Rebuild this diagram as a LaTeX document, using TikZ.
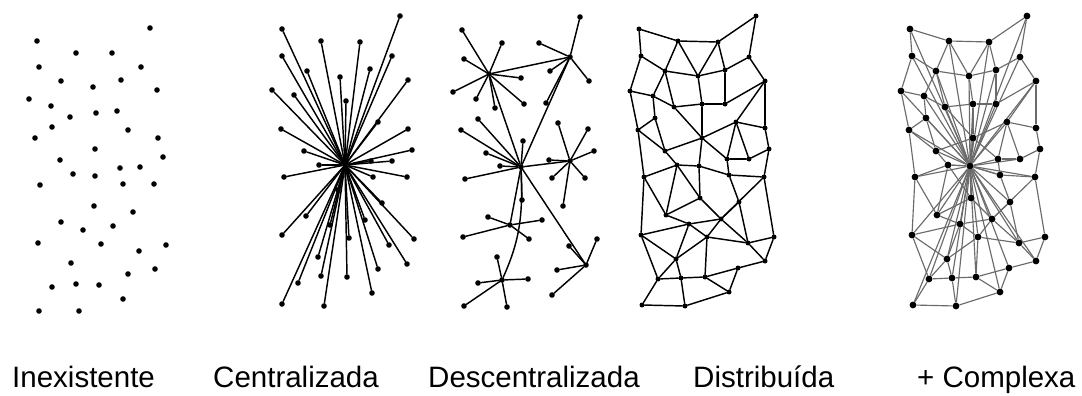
\documentclass[tikz,border=0pt]{standalone}
\usepackage{fontspec}
\setmainfont{Liberation Sans}
\pgfdeclarelayer{bg}
\pgfsetlayers{bg,main}
\begin{document}
\begin{tikzpicture}[x=1pt,y=-1pt,
  dot/.style={circle,fill=black,inner sep=0pt,minimum size=5.6pt},
  mdot/.style={circle,fill=black,inner sep=0pt,minimum size=5pt},
  xdot/.style={circle,fill=black,inner sep=0pt,minimum size=6.8pt},
  link/.style={line width=1.45pt,line cap=round},
  xlink/.style={line width=1.15pt,draw=black!58},
  lbl/.style={anchor=base west,inner sep=0pt,font=\fontsize{29.5}{30}\selectfont}]
\useasboundingbox (0,0) rectangle (1082,396);

% ---------- Inexistente ----------
\foreach \x/\y [count=\i] in {150/28,37/41,76/53,112/53,39/67,141/67,61/81,93/87,121/80,157/90,
  29/99,51/106,70/117,96/113,117/111,52/127,128/130,35/138,158/138,95/149,163/157,60/160,
  73/174,95/176,120/168,140/167,40/185,123/184,154/184,94/206,133/212,61/222,83/230,113/226,
  38/243,101/244,139/251,166/245,71/263,128/274,155/269,52/287,76/284,99/285,123/299,39/311,79/311}
  \node[dot] (i\i) at (\x,\y) {};

% ---------- Centralizada ----------
\node[dot] (c0) at (345,165) {};
\foreach \x/\y [count=\i] in {282/29,321/41,360/42,400/16,282/56,307/71,340/77,370/69,392/56,272/90,
  294/95,346/101,408/80,281/129,304/151,378/122,408/129,412/150,319/165,392/161,371/161,284/177,
  373/177,407/177,306/216,382/203,282/235,365/220,330/225,349/238,414/239,389/245,318/257,
  378/269,407/264,321/276,347/277,298/283,372/293,282/304,324/306,338/190}
{
  \node[dot] (c\i) at (\x,\y) {};
  \begin{pgfonlayer}{bg}\draw[link] (c0) -- (c\i);\end{pgfonlayer}
}

% ---------- Descentralizada ----------
\node[dot] (h1) at (489,74) {};
\node[dot] (h2) at (570,57) {};
\node[dot] (h3) at (521,167) {};
\node[dot] (h4) at (570,161) {};
\node[dot] (h5) at (510,225) {};
\node[dot] (h6) at (502,280) {};
\node[dot] (h7) at (586,265) {};
\foreach \h/\pts in {1/{462/30,502/43,464/59,521/78,453/92,476/99,495/108,524/104},
  2/{580/17,539/43,550/71,589/81,546/103},
  3/{461/130,478/119,486/153,500/166,465/179,523/141,522/200},
  4/{558/123,588/129,594/151,549/160,552/178,585/178,563/206},
  5/{488/217,542/220,463/237,529/239},
  6/{497/257,528/279,478/283,464/306,507/307},
  7/{597/239,569/246,557/270,552/295}}
{
  \foreach \x/\y [count=\i] in \pts {
    \node[dot] (h\h l\i) at (\x,\y) {};
    \begin{pgfonlayer}{bg}\draw[link] (h\h) -- (h\h l\i);\end{pgfonlayer}
  }
}
\begin{pgfonlayer}{bg}
\draw[link] (h1) -- (h2);
\draw[link] (h1) -- (h3);
\draw[link] (h3) -- (h2);
\draw[link] (h3) -- (h4);
\draw[link] (h3) -- (h5);
\draw[link] (h3) .. controls (523,215) and (520,240) .. (h6);
\draw[link] (h3) -- (h7);
\end{pgfonlayer}

% ---------- Distribuida & Complexa ----------
\def\meshpts{639/29,678/41,718/42,756/16,641/56,665/71,698/76,725/70,749/57,765/81,
  630/91,653/96,674/107,702/104,725/104,655/118,736/122,638/130,765/128,702/138,
  665/151,769/149,727/159,749/159,677/165,699/166,644/177,729/175,764/177,700/198,
  739/202,666/215,721/219,689/224,641/235,707/237,774/237,748/243,676/259,765/261,
  738/268,658/279,681/278,705/277,729/292,642/305,685/306}
\def\meshedges{1/2,2/3,3/4,4/9,1/5,5/6,5/11,2/6,2/7,3/7,3/8,6/7,7/8,8/9,9/10,6/12,6/13,
  11/12,11/18,12/16,12/13,13/14,14/15,7/14,8/15,15/10,10/17,10/19,17/19,16/18,16/21,
  13/20,14/20,20/17,18/21,20/21,17/23,17/24,19/22,20/23,23/24,24/22,21/25,25/26,26/20,
  18/27,27/25,26/28,28/29,23/28,22/29,27/35,27/32,25/32,25/30,26/30,28/31,29/33,29/37,
  30/32,30/33,31/33,31/38,32/34,34/33,35/34,34/39,34/36,36/33,36/39,36/44,36/38,33/38,
  38/37,38/40,37/40,40/41,41/44,41/45,44/45,43/44,42/43,39/42,39/43,35/39,35/42,42/46,
  46/47,47/45,43/47}
\foreach \x/\y [count=\i] in \meshpts {
  \node[mdot] (m\i) at (\x,\y) {};
  \node[xdot] (x\i) at (\x+271,\y) {};
}
\begin{pgfonlayer}{bg}
\foreach \a/\b in \meshedges {
  \draw[link] (m\a) -- (m\b);
  \draw[xlink] (x\a) -- (x\b);
}
\foreach \k in {1,2,3,4,5,6,7,8,9,10,11,12,13,14,15,16,17,18,20,21,23,24,25,27,28,29,30,31,
  32,33,34,35,36,38,39,40,41,42,43,44,45,46,47}
  \draw[xlink] (x26) -- (x\k);
\end{pgfonlayer}

% ---------- labels ----------
\node[lbl] (t1) at (12,387) {Inexistente};
\node[lbl] (t2) at (213,387) {Centralizada};
\node[lbl] (t3) at (428,387) {Descentralizada};
\node[lbl] (t4) at (693,387) {Distribuída};
\node[lbl] (t5) at (917,387) {+ Complexa};
\end{tikzpicture}
\end{document}
